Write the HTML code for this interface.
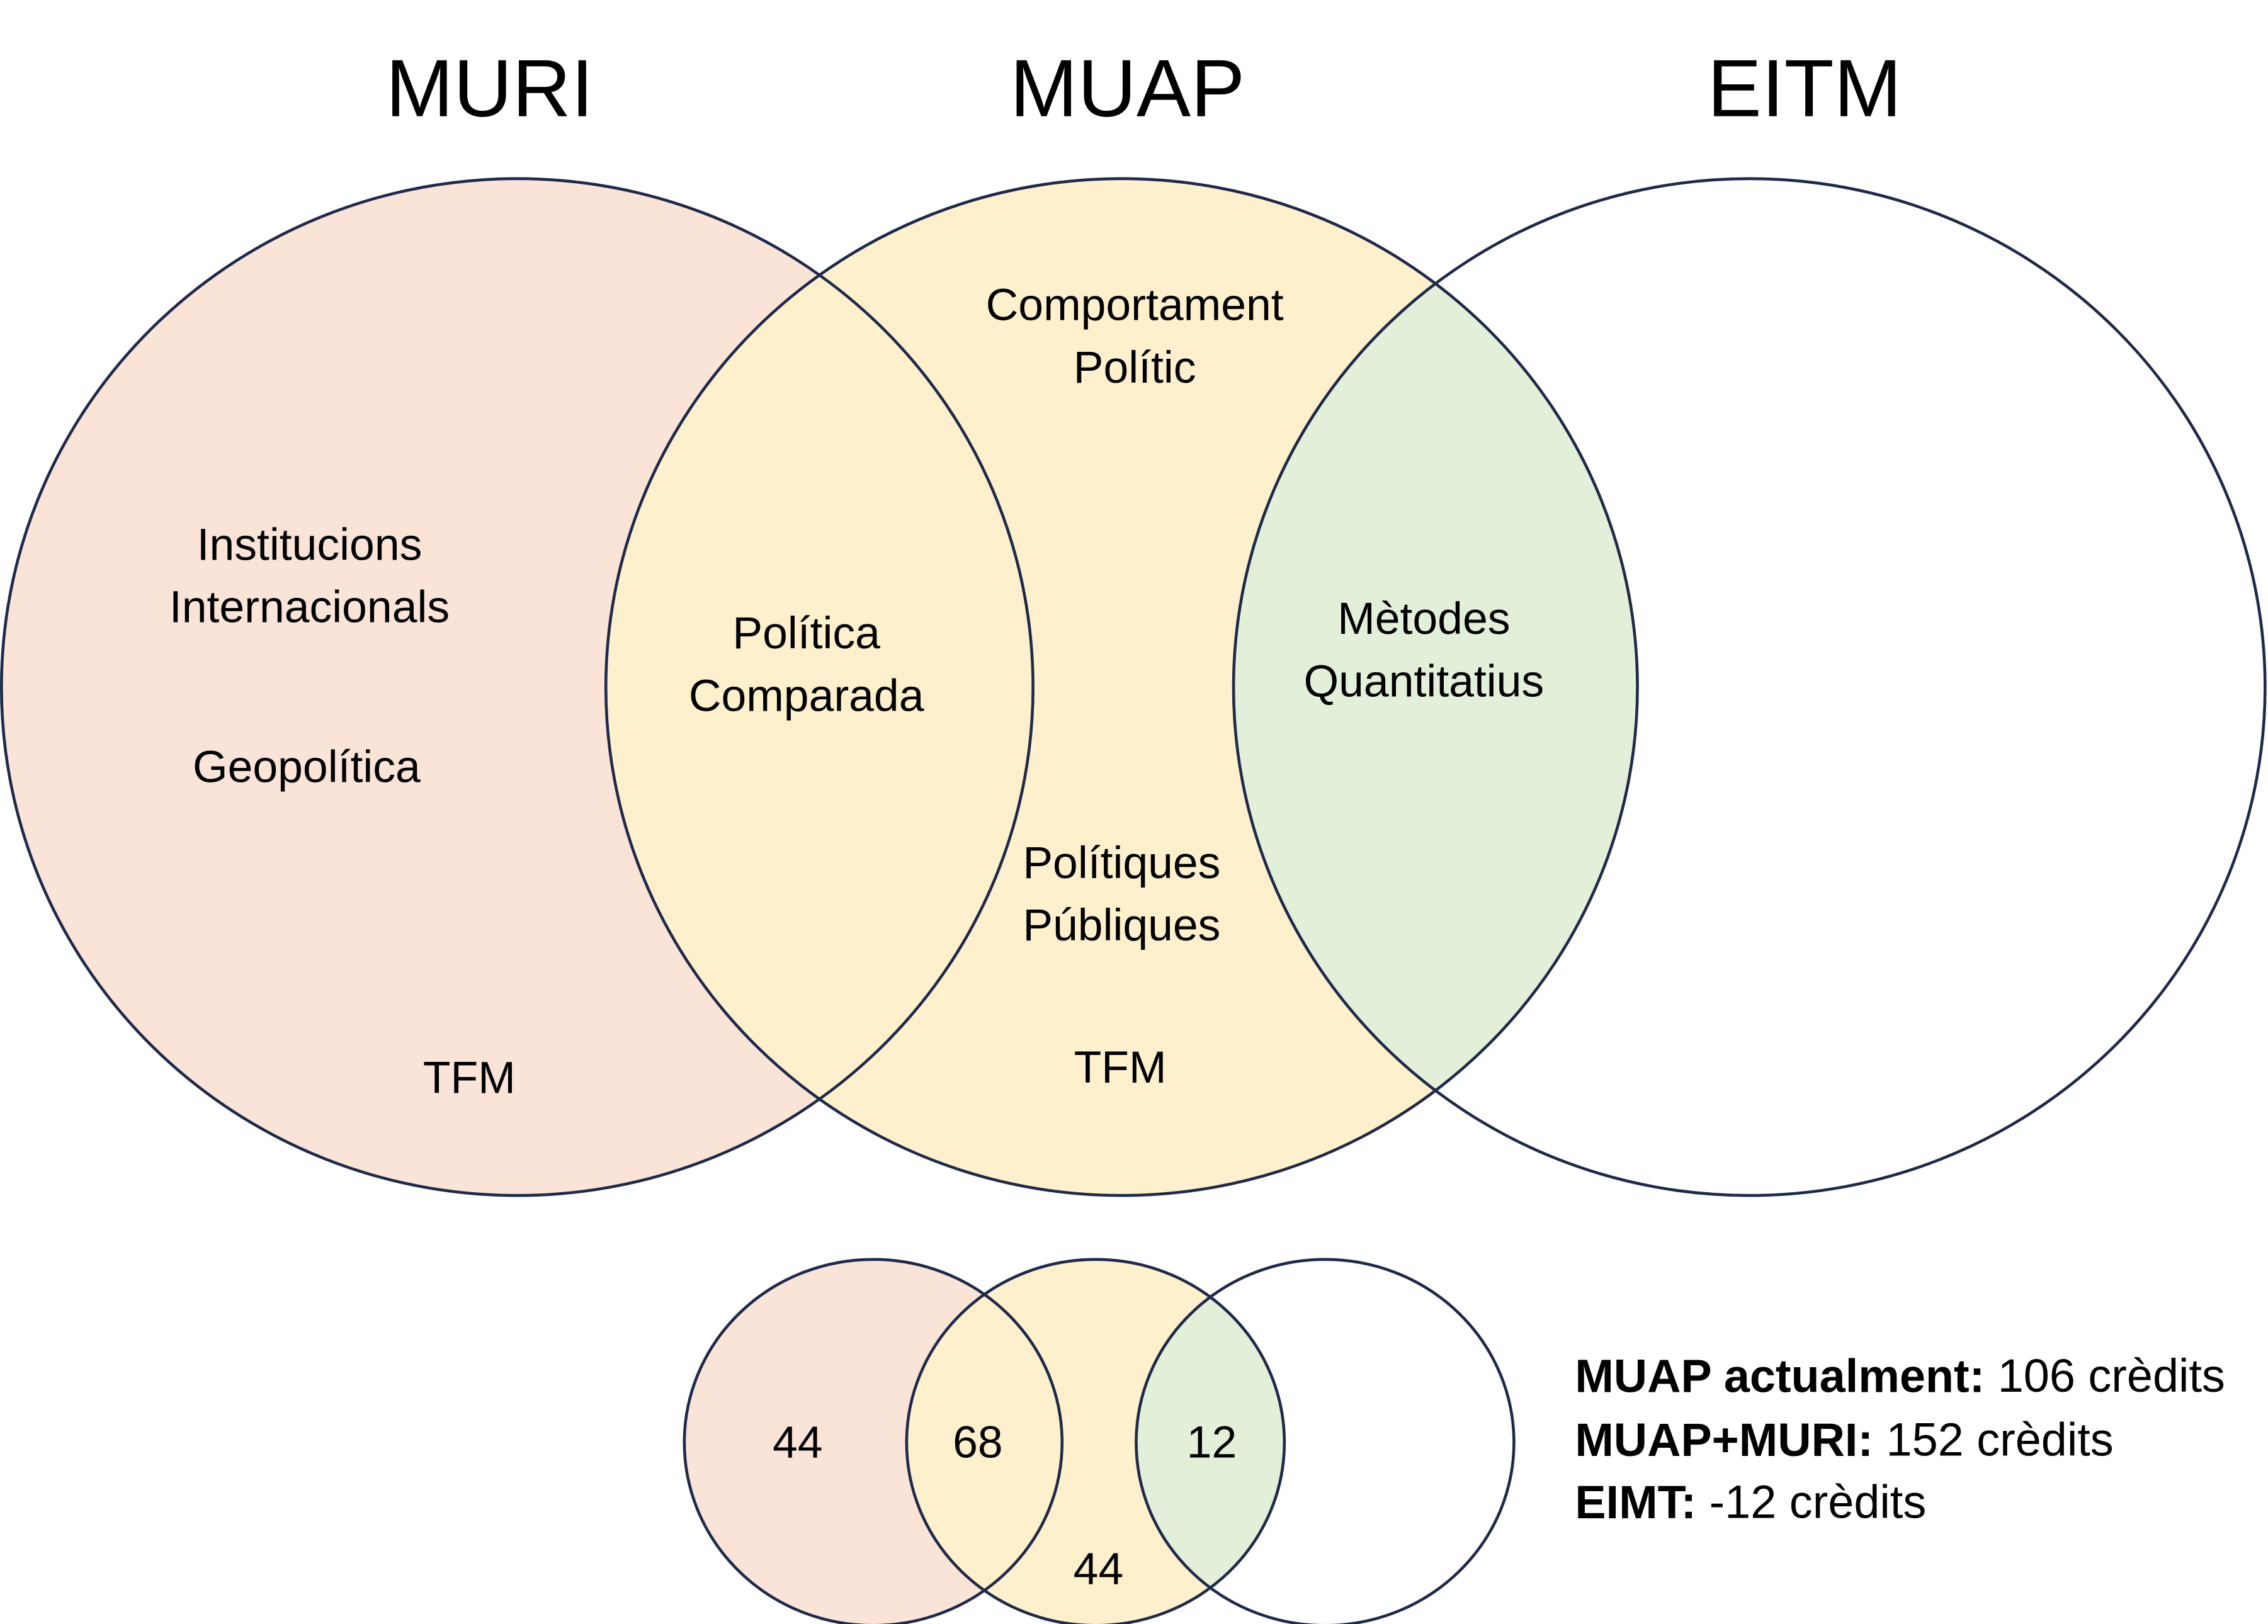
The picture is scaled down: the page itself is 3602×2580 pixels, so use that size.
<!DOCTYPE html>
<html><head><meta charset="utf-8"><style>html,body{margin:0;padding:0;background:#fff}svg{display:block}</style></head>
<body>
<svg width="3602" height="2580" viewBox="0 0 1561 1118" preserveAspectRatio="none" xmlns="http://www.w3.org/2000/svg" font-family="Liberation Sans, sans-serif">
<defs>
<clipPath id="c3"><ellipse cx="1204" cy="473" rx="355" ry="350"/></clipPath>
<clipPath id="s3"><ellipse cx="912" cy="993" rx="130" ry="126"/></clipPath>
</defs>
<rect width="1561" height="1118" fill="#fff"/>
<g font-size="56" text-anchor="middle" fill="#000">
<text x="337" y="80">MURI</text>
<text x="776" y="80">MUAP</text>
<text x="1242" y="80">EITM</text>
</g>
<ellipse cx="356" cy="473" rx="355" ry="350" fill="#FAE3D7"/>
<ellipse cx="772" cy="473" rx="355" ry="350" fill="#FEF0CC"/>
<ellipse cx="772" cy="473" rx="355" ry="350" fill="#E2EFD9" clip-path="url(#c3)"/>
<g fill="none" stroke="#1F2A4A" stroke-width="2">
<ellipse cx="356" cy="473" rx="355" ry="350"/>
<ellipse cx="772" cy="473" rx="355" ry="350"/>
<ellipse cx="1204" cy="473" rx="355" ry="350"/>
</g>
<g font-size="31" text-anchor="middle" dominant-baseline="central" fill="#000">
<text x="213" y="375">Institucions</text>
<text x="213" y="418">Internacionals</text>
<text x="211" y="528">Geopolítica</text>
<text x="323" y="742">TFM</text>
<text x="555" y="436">Política</text>
<text x="555" y="479">Comparada</text>
<text x="781" y="210">Comportament</text>
<text x="781" y="253">Polític</text>
<text x="772" y="594">Polítiques</text>
<text x="772" y="637">Públiques</text>
<text x="771" y="735">TFM</text>
<text x="980" y="426">Mètodes</text>
<text x="980" y="469">Quantitatius</text>
</g>
<ellipse cx="601" cy="993" rx="130" ry="126" fill="#FAE3D7"/>
<ellipse cx="754" cy="993" rx="130" ry="126" fill="#FEF0CC"/>
<ellipse cx="754" cy="993" rx="130" ry="126" fill="#E2EFD9" clip-path="url(#s3)"/>
<g fill="none" stroke="#1F2A4A" stroke-width="2">
<ellipse cx="601" cy="993" rx="130" ry="126"/>
<ellipse cx="754" cy="993" rx="130" ry="126"/>
<ellipse cx="912" cy="993" rx="130" ry="126"/>
</g>
<g font-size="31" text-anchor="middle" dominant-baseline="central" fill="#000">
<text x="549" y="993">44</text>
<text x="673" y="993">68</text>
<text x="834" y="993">12</text>
<text x="756" y="1080">44</text>
</g>
<g font-size="32" fill="#000" dominant-baseline="central">
<text x="1084" y="947"><tspan font-weight="bold">MUAP actualment:</tspan> 106 crèdits</text>
<text x="1084" y="991"><tspan font-weight="bold">MUAP+MURI:</tspan> 152 crèdits</text>
<text x="1084" y="1034"><tspan font-weight="bold">EIMT:</tspan> -12 crèdits</text>
</g>
</svg>
</body></html>
